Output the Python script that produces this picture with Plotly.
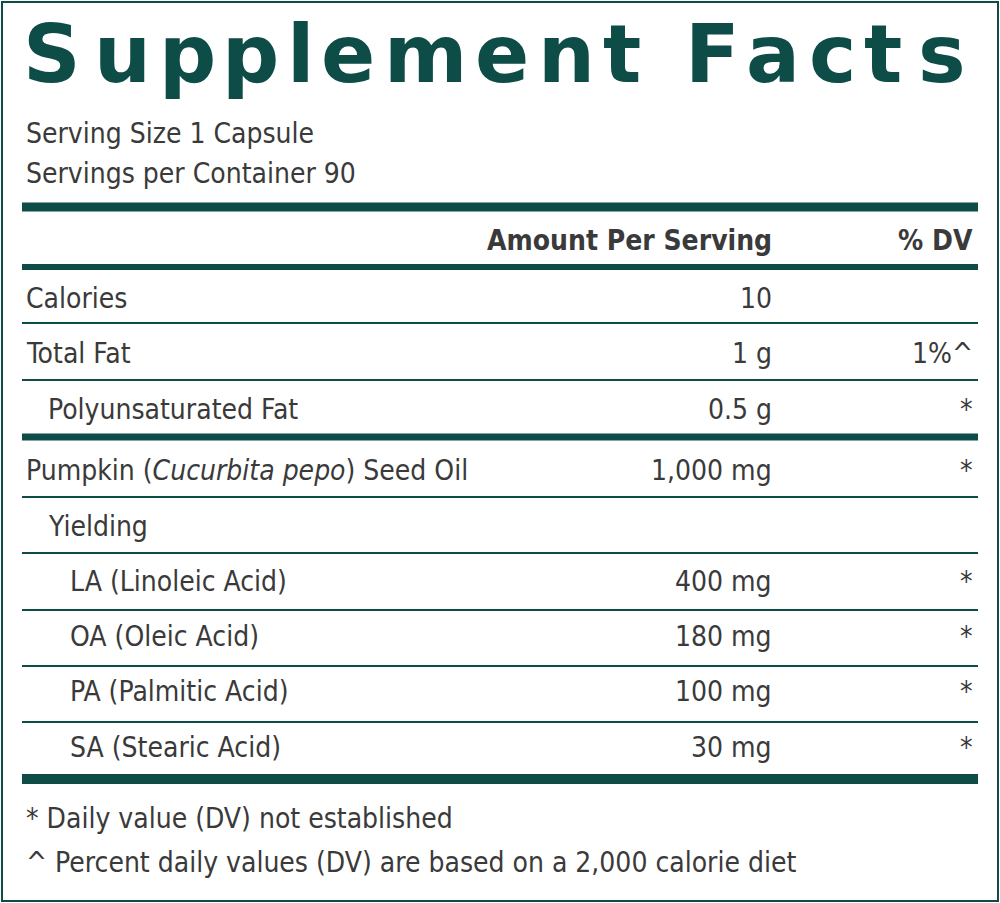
import plotly.graph_objects as go

TEAL = "#0e4c47"
GRAY = "#3a3a3a"
FONT = "Liberation Sans Narrow, DejaVu Sans Condensed, Arial Narrow, sans-serif"
SIZE = 28

title_letters = list("Supplement") + list("Facts")
title_x = [52, 122, 187, 250, 300, 348, 425, 502, 566, 622, 712, 773, 832, 883, 942]

serving_lines = ["Serving Size 1 Capsule", "Servings per Container 90"]
header = ("Amount Per Serving", "% DV")

labels = ["Calories", "Total Fat", "Polyunsaturated Fat",
          "Pumpkin (<i>Cucurbita pepo</i>) Seed Oil", "Yielding",
          "LA (Linoleic Acid)", "OA (Oleic Acid)", "PA (Palmitic Acid)", "SA (Stearic Acid)"]
amounts = ["10", "1 g", "0.5 g", "1,000 mg", "", "400 mg", "180 mg", "100 mg", "30 mg"]
dvs = ["", "1%^", "*", "*", "", "*", "*", "*", "*"]
indent = [0, 0, 1, 0, 1, 2, 2, 2, 2]
row_y = [298, 353, 409, 470, 526, 581, 636, 691, 747]

# separator lines: (y, thickness)
rules = [(207, 9), (267, 6), (323, 2), (380, 2), (437, 7), (497, 2),
         (553, 2), (610, 2), (666, 2), (722, 2), (779, 10)]

footnotes = ["* Daily value (DV) not established",
             "^ Percent daily values (DV) are based on a 2,000 calorie diet"]

fig = go.Figure()
shapes = [dict(type="rect", x0=2, x1=998, y0=2, y1=901, line=dict(color=TEAL, width=2))]
for y, w in rules:
    shapes.append(dict(type="rect", x0=22, x1=978, y0=y - w / 2, y1=y + w / 2,
                       fillcolor=TEAL, line=dict(width=0)))

ann = []
for ch, x in zip(title_letters, title_x):
    ann.append(dict(x=x, y=54, text=ch, xanchor="center", yanchor="middle", showarrow=False,
                    font=dict(family="DejaVu Sans, sans-serif", size=80, color=TEAL, weight="bold")))
for i, t in enumerate(serving_lines):
    ann.append(dict(x=24, y=133 + 40 * i, text=t, xanchor="left", yanchor="middle",
                    showarrow=False, font=dict(family=FONT, size=SIZE, color=GRAY)))
ann.append(dict(x=774, y=240, text=header[0], xanchor="right", yanchor="middle", showarrow=False,
                font=dict(family=FONT, size=SIZE, color=GRAY, weight="bold")))
ann.append(dict(x=975, y=240, text=header[1], xanchor="right", yanchor="middle", showarrow=False,
                font=dict(family=FONT, size=SIZE, color=GRAY, weight="bold")))
for lab, amt, dv, ind, y in zip(labels, amounts, dvs, indent, row_y):
    ann.append(dict(x=24 + 22 * ind, y=y, text=lab, xanchor="left", yanchor="middle",
                    showarrow=False, font=dict(family=FONT, size=SIZE, color=GRAY)))
    if amt:
        ann.append(dict(x=774, y=y, text=amt, xanchor="right", yanchor="middle",
                        showarrow=False, font=dict(family=FONT, size=SIZE, color=GRAY)))
    if dv:
        ann.append(dict(x=975, y=y, text=dv, xanchor="right", yanchor="middle",
                        showarrow=False, font=dict(family=FONT, size=SIZE, color=GRAY)))
for i, t in enumerate(footnotes):
    ann.append(dict(x=24, y=818 + 44 * i, text=t, xanchor="left", yanchor="middle",
                    showarrow=False, font=dict(family=FONT, size=SIZE, color=GRAY)))

fig.update_layout(
    width=1000, height=903, margin=dict(l=0, r=0, t=0, b=0),
    paper_bgcolor="white", plot_bgcolor="white",
    xaxis=dict(range=[0, 1000], visible=False, fixedrange=True),
    yaxis=dict(range=[903, 0], visible=False, fixedrange=True),
    shapes=shapes, annotations=ann, showlegend=False,
)
fig.write_html("out.html", config={"displayModeBar": False},
               post_script="document.body.style.margin='0';document.body.style.overflow='hidden';")
